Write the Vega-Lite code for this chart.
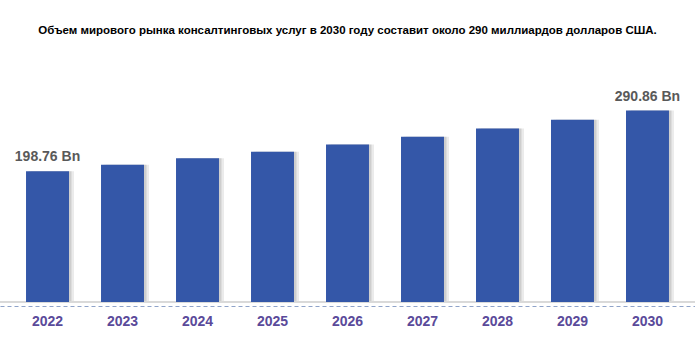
{
  "$schema": "https://vega.github.io/schema/vega-lite/v6.json",
  "width": 695,
  "height": 262,
  "autosize": {"type": "none"},
  "padding": {"top": 40, "left": 0, "right": 0, "bottom": 35},
  "background": "white",
  "title": {
    "text": "Объем мирового рынка консалтинговых услуг в 2030 году составит около 290 миллиардов долларов США.",
    "font": "Liberation Sans",
    "fontSize": 11.5,
    "fontWeight": "bold",
    "color": "#000000",
    "anchor": "middle",
    "baseline": "middle",
    "offset": -2
  },
  "data": {
    "values": [
      {"year": "2022", "value": 198.76, "label": "198.76 Bn"},
      {"year": "2023", "value": 208.5, "label": ""},
      {"year": "2024", "value": 218.2, "label": ""},
      {"year": "2025", "value": 228.4, "label": ""},
      {"year": "2026", "value": 239.2, "label": ""},
      {"year": "2027", "value": 251.0, "label": ""},
      {"year": "2028", "value": 263.6, "label": ""},
      {"year": "2029", "value": 277.0, "label": ""},
      {"year": "2030", "value": 290.86, "label": "290.86 Bn"}
    ]
  },
  "encoding": {
    "x": {
      "field": "year",
      "type": "ordinal",
      "scale": {"paddingInner": 0.427, "paddingOuter": 0.347},
      "axis": {
        "title": null,
        "labelAngle": 0,
        "ticks": false,
        "offset": 4,
        "domainColor": "#8fa3c9",
        "domainDash": [4, 3],
        "domainWidth": 1.2,
        "labelFont": "Liberation Sans",
        "labelFontSize": 14,
        "labelFontWeight": "bold",
        "labelColor": "#5a4a9a",
        "labelPadding": 8
      }
    },
    "y": {
      "field": "value",
      "type": "quantitative",
      "scale": {"domain": [0, 398], "nice": false, "zero": true},
      "axis": null
    }
  },
  "layer": [
    {
      "mark": {"type": "bar", "color": "#9a9a9a", "opacity": 0.2, "xOffset": 5},
      "encoding": {}
    },
    {
      "mark": {"type": "bar", "color": "#8a8a8a", "opacity": 0.3, "xOffset": 2.5},
      "encoding": {}
    },
    {
      "mark": {"type": "rule", "color": "#d9d9d9", "strokeWidth": 1},
      "encoding": {"y": {"datum": 0}, "x": null}
    },
    {
      "mark": {"type": "bar", "color": "#3457a8"},
      "encoding": {}
    },
    {
      "mark": {
        "type": "text",
        "baseline": "alphabetic",
        "dy": -10,
        "font": "Liberation Sans",
        "fontSize": 14,
        "fontWeight": "bold",
        "color": "#595959"
      },
      "encoding": {"text": {"field": "label"}}
    }
  ],
  "config": {"view": {"stroke": null}}
}
